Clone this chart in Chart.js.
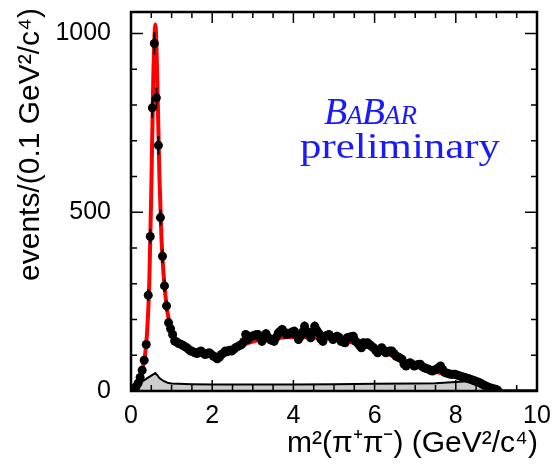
<!DOCTYPE html>
<html>
<head>
<meta charset="utf-8">
<script src="https://cdn.jsdelivr.net/npm/chart.js@4.4.1/dist/chart.umd.min.js"></script>
<style>
  html, body { margin: 0; padding: 0; background: #fff; }
  #wrap { width: 556px; height: 465px; }
</style>
</head>
<body>
<div id="wrap"><canvas id="massChart" width="556" height="465"></canvas></div>
<script>
// data points: bin centre in m^2(pi+pi-) and events per bin
const binCentres = [
  0.025, 0.075, 0.125, 0.175, 0.225, 0.275, 0.325, 0.375, 0.425, 0.475,
  0.525, 0.575, 0.625, 0.675, 0.725, 0.775, 0.825, 0.875, 0.925, 0.975,
  1.025, 1.075, 1.125, 1.175, 1.225, 1.275, 1.325, 1.375, 1.425, 1.475,
  1.525, 1.575, 1.625, 1.675, 1.725, 1.775, 1.825, 1.875, 1.925, 1.975,
  2.025, 2.075, 2.125, 2.175, 2.225, 2.275, 2.325, 2.375, 2.425, 2.475,
  2.525, 2.575, 2.625, 2.675, 2.725, 2.775, 2.825, 2.875, 2.925, 2.975,
  3.025, 3.075, 3.125, 3.175, 3.225, 3.275, 3.325, 3.375, 3.425, 3.475,
  3.525, 3.575, 3.625, 3.675, 3.725, 3.775, 3.825, 3.875, 3.925, 3.975,
  4.025, 4.075, 4.125, 4.175, 4.225, 4.275, 4.325, 4.375, 4.425, 4.475,
  4.525, 4.575, 4.625, 4.675, 4.725, 4.775, 4.825, 4.875, 4.925, 4.975,
  5.025, 5.075, 5.125, 5.175, 5.225, 5.275, 5.325, 5.375, 5.425, 5.475,
  5.525, 5.575, 5.625, 5.675, 5.725, 5.775, 5.825, 5.875, 5.925, 5.975,
  6.025, 6.075, 6.125, 6.175, 6.225, 6.275, 6.325, 6.375, 6.425, 6.475,
  6.525, 6.575, 6.625, 6.675, 6.725, 6.775, 6.825, 6.875, 6.925, 6.975,
  7.025, 7.075, 7.125, 7.175, 7.225, 7.275, 7.325, 7.375, 7.425, 7.475,
  7.525, 7.575, 7.625, 7.675, 7.725, 7.775, 7.825, 7.875, 7.925, 7.975,
  8.025, 8.075, 8.125, 8.175, 8.225, 8.275, 8.325, 8.375, 8.425, 8.475,
  8.525, 8.575, 8.625, 8.675, 8.725, 8.775, 8.825, 8.875, 8.925, 8.975,
  9.025
];
const eventCounts = [
  2, 5, 12, 22, 38, 58, 86, 130, 268, 432,
  792, 972, 820, 687, 485, 377, 294, 238, 191, 174,
  158, 140, 137, 133, 131, 128, 124, 121, 116, 112,
  110, 107, 105, 109, 112, 106, 102, 104, 107, 103,
  98, 95, 90, 94, 102, 106, 112, 110, 114, 112,
  116, 121, 124, 127, 130, 138, 158, 144, 150, 153,
  155, 157, 158, 150, 139, 148, 160, 150, 144, 141,
  139, 150, 162, 167, 172, 165, 158, 160, 162, 165,
  167, 155, 144, 153, 165, 181, 167, 160, 149, 165,
  181, 170, 162, 145, 139, 153, 155, 158, 152, 144,
  148, 153, 150, 139, 137, 135, 149, 150, 152, 153,
  140, 135, 128, 121, 135, 130, 135, 130, 125, 121,
  114, 107, 115, 121, 114, 107, 110, 112, 112, 105,
  98, 95, 92, 89, 75, 70, 76, 79, 75, 70,
  72, 74, 75, 68, 65, 63, 61, 58, 56, 59,
  61, 65, 70, 60, 52, 50, 48, 47, 47, 47,
  45, 43, 41, 39, 38, 36, 34, 32, 30, 28,
  26, 24, 21, 17, 15, 12, 10, 8, 6, 5,
  3
];

// total fit (red curve)
const fitMass = [
  0, 0.1, 0.2, 0.3, 0.35, 0.4, 0.45, 0.5, 0.55, 0.6,
  0.65, 0.7, 0.75, 0.8, 0.85, 0.9, 0.95, 1.0, 1.1, 1.2,
  1.3, 1.4, 1.5, 1.6, 1.7, 1.8, 1.9, 2.0, 2.2, 2.4,
  2.6, 2.8, 3.0, 3.2, 3.4, 3.6, 3.8, 4.0, 4.2, 4.4,
  4.6, 4.8, 5.0, 5.2, 5.4, 5.6, 5.8, 6.0, 6.2, 6.4,
  6.6, 6.8, 7.0, 7.2, 7.4, 7.6, 7.8, 8.0, 8.2, 8.4,
  8.6, 8.8, 9.0, 9.2, 10.0
];
const fitEvents = [
  0, 8, 28, 70, 105, 170, 300, 560, 880, 1025,
  860, 600, 430, 330, 265, 220, 190, 168, 145, 131,
  122, 115, 110, 106, 103, 101, 100, 100, 102, 108,
  118, 130, 138, 143, 146, 148, 150, 151, 151, 150,
  149, 147, 145, 141, 137, 131, 124, 116, 108, 100,
  90, 80, 72, 64, 57, 51, 46, 42, 36, 29,
  21, 12, 4, 0, 0
];

// background component (grey area)
const bkgMass = [
  0, 0.1, 0.2, 0.3, 0.4, 0.5, 0.6, 0.65, 0.7, 0.8,
  0.9, 1.0, 1.5, 2.0, 3.0, 4.0, 5.0, 6.0, 7.0, 7.5,
  8.0, 8.3, 8.5, 8.7, 8.9, 9.0, 10.0
];
const bkgEvents = [
  0, 10, 20, 28, 36, 43, 50, 44, 36, 28,
  23, 21, 19, 18, 18, 18, 19, 20, 21, 22,
  25, 27, 25, 17, 7, 0, 0
];

const xTickLabels = [0, 2, 4, 6, 8, 10];
const yTickLabels = [0, 500, 1000];

const toXY = (xs, ys) => xs.map((x, i) => ({ x: x, y: ys[i] }));

// poisson error bars on the data points
const errorBars = {
  id: 'errorBars',
  afterDatasetsDraw(chart) {
    const ctx = chart.ctx;
    const xs = chart.scales.x, ys = chart.scales.y;
    ctx.save();
    ctx.strokeStyle = '#000';
    ctx.lineWidth = 2;
    binCentres.forEach((m, i) => {
      const n = eventCounts[i];
      const e = Math.sqrt(n);
      const px = xs.getPixelForValue(m);
      ctx.beginPath();
      ctx.moveTo(px, ys.getPixelForValue(Math.max(0, n - e)));
      ctx.lineTo(px, ys.getPixelForValue(n + e));
      ctx.stroke();
    });
    ctx.restore();
  }
};

// frame, inward ticks on all sides, axis titles and the BaBar stamp
const frameAndText = {
  id: 'frameAndText',
  afterDraw(chart) {
    const ctx = chart.ctx;
    const a = chart.chartArea;
    const xs = chart.scales.x, ys = chart.scales.y;
    ctx.save();
    ctx.strokeStyle = '#000';
    ctx.lineWidth = 1.5;
    for (let v = 0; v <= 10.001; v += 0.5) {
      const px = xs.getPixelForValue(v);
      const len = Math.abs(v % 2) < 0.01 ? 11 : 6;
      ctx.beginPath();
      ctx.moveTo(px, a.bottom); ctx.lineTo(px, a.bottom - len);
      ctx.moveTo(px, a.top); ctx.lineTo(px, a.top + len);
      ctx.stroke();
    }
    for (let v = 0; v <= 1060; v += 100) {
      const py = ys.getPixelForValue(v);
      const len = v % 500 === 0 ? 12 : 6;
      ctx.beginPath();
      ctx.moveTo(a.left, py); ctx.lineTo(a.left + len, py);
      ctx.moveTo(a.right, py); ctx.lineTo(a.right - len, py);
      ctx.stroke();
    }
    ctx.lineWidth = 2.5;
    ctx.strokeRect(a.left, a.top, a.right - a.left, a.bottom - a.top);

    ctx.fillStyle = '#000';
    ctx.font = '30px "Liberation Sans", Arial, sans-serif';
    ctx.textAlign = 'right';
    ctx.textBaseline = 'alphabetic';
    ctx.fillText('m\u00b2(\u03c0\u207a\u03c0\u207b) (GeV\u00b2/c\u2074)', a.right + 1, 452);

    ctx.save();
    ctx.translate(39, 8);
    ctx.rotate(-Math.PI / 2);
    ctx.textAlign = 'right';
    ctx.fillText('events/(0.1 GeV\u00b2/c\u2074)', 0, 0);
    ctx.restore();

    // BaBar logo text in small caps
    ctx.fillStyle = '#1a1aff';
    ctx.textAlign = 'left';
    let x = 324;
    const parts = [['B', 38], ['A', 27], ['B', 38], ['AR', 27]];
    parts.forEach(p => {
      ctx.font = 'italic ' + p[1] + 'px "Liberation Serif", "DejaVu Serif", serif';
      ctx.fillText(p[0], x, 124);
      x += ctx.measureText(p[0]).width - 1;
    });
    ctx.font = '35px "Liberation Serif", "DejaVu Serif", serif';
    const word = 'preliminary';
    const w = ctx.measureText(word).width;
    ctx.save();
    ctx.translate(300, 158);
    ctx.scale(200 / w, 1);
    ctx.fillText(word, 0, 0);
    ctx.restore();
    ctx.restore();
  }
};

const tickFont = { family: '"Liberation Sans", Arial, sans-serif', size: 25 };

const chart = new Chart(document.getElementById('massChart'), {
  type: 'scatter',
  data: {
    datasets: [
      {
        label: 'data',
        data: toXY(binCentres, eventCounts),
        showLine: false,
        pointRadius: 4.5,
        pointBackgroundColor: '#000',
        pointBorderColor: '#000',
        pointBorderWidth: 0,
        order: 0
      },
      {
        label: 'fit',
        type: 'line',
        data: toXY(fitMass, fitEvents),
        borderColor: '#ff0000',
        borderWidth: 4,
        pointRadius: 0,
        cubicInterpolationMode: 'monotone',
        fill: false,
        order: 1
      },
      {
        label: 'background',
        type: 'line',
        data: toXY(bkgMass, bkgEvents),
        borderColor: '#000',
        borderWidth: 2,
        backgroundColor: '#cccccc',
        pointRadius: 0,
        tension: 0,
        fill: 'origin',
        order: 2
      }
    ]
  },
  options: {
    responsive: false,
    animation: false,
    layout: { padding: { left: 0, top: 12, right: 19, bottom: 0 } },
    plugins: {
      legend: { display: false },
      tooltip: { enabled: false }
    },
    scales: {
      x: {
        type: 'linear',
        min: 0,
        max: 10,
        grid: { display: false, drawTicks: false },
        border: { display: false },
        ticks: {
          padding: 10,
          maxRotation: 0,
          autoSkip: false,
          color: '#000',
          font: tickFont,
          callback: v => String(v)
        },
        afterBuildTicks: s => { s.ticks = xTickLabels.map(v => ({ value: v })); },
        afterFit: s => {
          s.height = 74;
          s.paddingLeft = 0;
          s.paddingRight = 0;
        }
      },
      y: {
        type: 'linear',
        min: 0,
        max: 1060,
        grid: { display: false, drawTicks: false },
        border: { display: false },
        ticks: {
          padding: 20,
          autoSkip: false,
          color: '#000',
          font: tickFont,
          callback: v => String(v)
        },
        afterBuildTicks: s => { s.ticks = yTickLabels.map(v => ({ value: v })); },
        afterFit: s => {
          s.width = 131;
          s.paddingTop = 0;
          s.paddingBottom = 0;
        }
      }
    }
  },
  plugins: [errorBars, frameAndText]
});
</script>
</body>
</html>
